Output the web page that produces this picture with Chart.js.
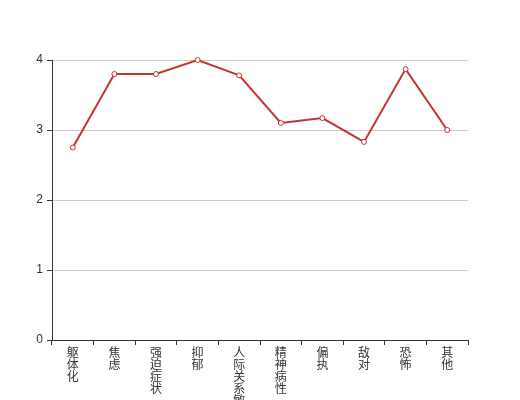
<!DOCTYPE html>
<html>
<head>
<meta charset="utf-8">
<script src="https://cdn.jsdelivr.net/npm/chart.js@4"></script>
<style>
html,body{margin:0;padding:0;background:#fff;}
#wrap{width:520px;height:400px;position:relative;}
</style>
</head>
<body>
<div id="wrap"><canvas id="c" width="520" height="400"></canvas></div>
<script>
const categories = ['躯体化','焦虑','强迫症状','抑郁','人际关系敏感','精神病性','偏执','敌对','恐怖','其他'];
const values = [2.75, 3.80, 3.80, 4.00, 3.78, 3.10, 3.17, 2.83, 3.87, 3.00];
const yTicks = [0, 1, 2, 3, 4];

const verticalLabels = categories.map(s => s.split(''));
const FONT = "'Liberation Sans', 'Noto Sans CJK SC', sans-serif";

new Chart(document.getElementById('c'), {
  type: 'line',
  data: {
    labels: verticalLabels,
    datasets: [{
      data: values,
      borderColor: '#c23531',
      backgroundColor: '#ffffff',
      borderWidth: 2,
      pointRadius: 2.5,
      pointBorderWidth: 1,
      pointBorderColor: '#c23531',
      pointBackgroundColor: '#ffffff',
      tension: 0,
      fill: false,
      clip: false
    }]
  },
  options: {
    responsive: false,
    animation: false,
    devicePixelRatio: 1,
    layout: { padding: { top: 60, right: 52, left: 0, bottom: 0 } },
    plugins: { legend: { display: false }, tooltip: { enabled: false } },
    scales: {
      x: {
        offset: true,
        grid: { display: true, drawOnChartArea: false, drawTicks: true, tickLength: 5, tickColor: '#333', offset: true },
        border: { display: true, color: '#333', width: 1 },
        ticks: {
          color: '#333',
          font: { family: FONT, size: 12, lineHeight: '12px' },
          maxRotation: 0, minRotation: 0, autoSkip: false, padding: 3
        },
        afterFit: (s) => { s.height = 60; }
      },
      y: {
        min: 0, max: 4,
        afterBuildTicks: (s) => { s.ticks = yTicks.map(v => ({ value: v })); },
        grid: { color: '#cccccc', lineWidth: 1, drawTicks: true, tickLength: 5, tickColor: '#333' },
        border: { display: true, color: '#333', width: 1 },
        ticks: { color: '#333', font: { family: FONT, size: 12 }, padding: 4 },
        afterFit: (s) => { s.width = 52; }
      }
    }
  }
});
</script>
</body>
</html>
